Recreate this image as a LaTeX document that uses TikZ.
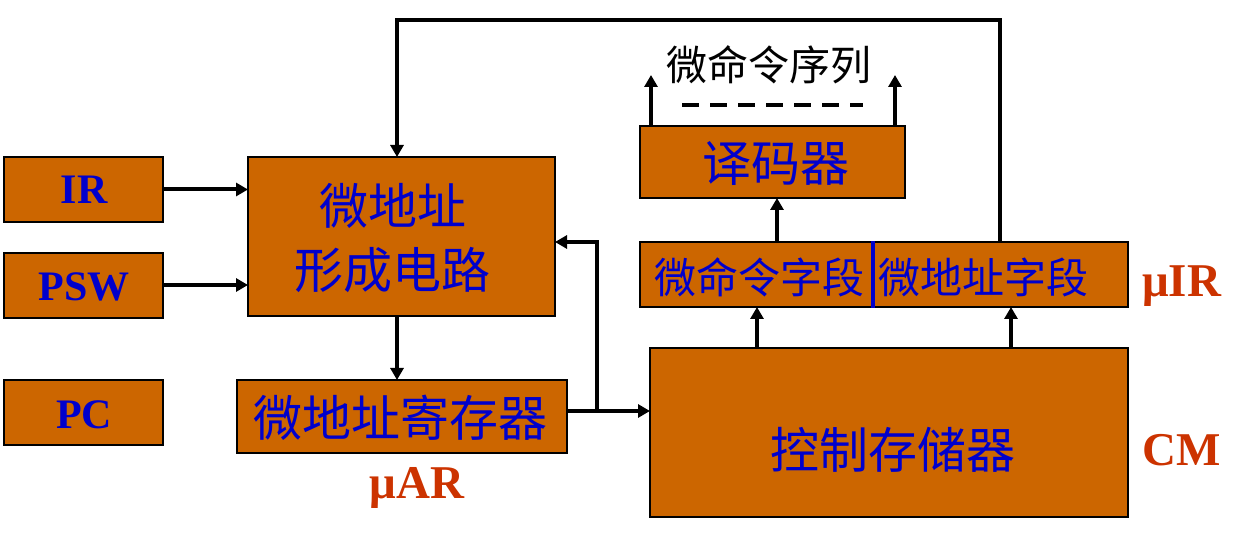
\documentclass[tikz,border=0pt]{standalone}
\usepackage{fontspec}
\setmainfont{Liberation Serif}
\newfontfamily\cjk{Noto Sans CJK SC}
\usetikzlibrary{arrows.meta}
\definecolor{boxorange}{HTML}{CC6600}
\definecolor{txtblue}{HTML}{0000CC}
\definecolor{lblred}{HTML}{CC3300}
\begin{document}
\begin{tikzpicture}[x=1pt,y=-1pt,
 box/.style={draw=black, line width=1.5pt, fill=boxorange, rectangle, inner sep=0pt, outer sep=0pt},
 cjkbig/.style={text=txtblue, font=\cjk\fontsize{49}{52}\selectfont, inner sep=0pt},
 cjksmall/.style={text=txtblue, font=\cjk\fontsize{42}{46}\selectfont, inner sep=0pt},
 cjkblack/.style={text=black, font=\cjk\fontsize{41}{46}\selectfont, inner sep=0pt},
 latin/.style={text=txtblue, font=\bfseries\fontsize{42}{46}\selectfont, inner sep=0pt},
 redlbl/.style={text=lblred, font=\bfseries\fontsize{47}{50}\selectfont, inner sep=0pt},
 arr/.style={line width=4pt, -{Triangle[length=12pt,width=13pt]}},
 wire/.style={line width=4pt},
]
\useasboundingbox (0,0) rectangle (1248,534);

% boxes
\node[box, minimum width=159pt, minimum height=65pt] (ir)  at (83.5,189.5) {};
\node[box, minimum width=159pt, minimum height=65pt] (psw) at (83.5,285.5) {};
\node[box, minimum width=159pt, minimum height=65pt] (pc)  at (83.5,412.5) {};
\node[box, minimum width=307pt, minimum height=159pt] (form) at (401.5,236.5) {};
\node[box, minimum width=330pt, minimum height=73pt] (uar) at (402,416.5) {};
\node[box, minimum width=478pt, minimum height=169pt] (cm) at (889,432.5) {};
\node[box, minimum width=488pt, minimum height=65pt] (uir) at (884,274.5) {};
\node[box, minimum width=265pt, minimum height=72pt] (dec) at (772.5,162) {};

% texts
\node[latin] (irT)  at (84,190) {IR};
\node[latin] (pswT) at (84,287) {PSW};
\node[latin] (pcT)  at (84,415) {PC};
\node[cjkbig] (formT1) at (393,206) {微地址};
\node[cjkbig] (formT2) at (392,270) {形成电路};
\node[cjkbig] (uarT) at (400,418) {微地址寄存器};
\node[cjkbig] (cmT) at (893,450) {控制存储器};
\node[cjkbig] (decT) at (776,163) {译码器};
\node[cjksmall] (uirT1) at (759,277) {微命令字段};
\node[cjksmall] (uirT2) at (983,277) {微地址字段};
\node[cjkblack] (seqT) at (769,65) {微命令序列};

\node[redlbl, anchor=base] (uarL) at (417,498) {μAR};
\node[redlbl, anchor=base west] (uirL) at (1142,297) {μIR};
\node[redlbl, anchor=base west] (cmL) at (1142,465) {CM};

% divider in uIR
\coordinate (div) at (873,0);
\draw[txtblue, line width=4pt] ([yshift=0.75pt]uir.north -| div) -- ([yshift=-0.75pt]uir.south -| div);

% connectors
\draw[arr] (ir.east) -- (ir.east -| form.west);
\draw[arr] (psw.east |- 0,285) -- (form.west |- 0,285);
\coordinate (fx) at (397,0);
\draw[arr] (form.south -| fx) -- (uar.north -| fx);

\coordinate (branch) at (597,411);
\coordinate (turn) at (597,242);
\draw[arr] (uar.east |- branch) -- (cm.west |- branch);
\draw[arr] (branch) -- (turn) -- (form.east |- turn);

\coordinate (c1) at (757,0);
\coordinate (c2) at (1011,0);
\draw[arr] (cm.north -| c1) -- (uir.south -| c1);
\draw[arr] (cm.north -| c2) -- (uir.south -| c2);

\coordinate (d1) at (777,0);
\draw[arr] (uir.north -| d1) -- (dec.south -| d1);

\coordinate (o1) at (651,75);
\coordinate (o2) at (895,75);
\draw[arr] (dec.north -| o1) -- (o1);
\draw[arr] (dec.north -| o2) -- (o2);

\coordinate (dashL) at (682,105);
\coordinate (dashR) at (863,105);
\draw[line width=4pt, dash pattern=on 17pt off 11pt] (dashL) -- (dashR);

\coordinate (fbR) at (1000,20);
\coordinate (fbL) at (397,20);
\draw[arr] (uir.north -| fbR) -- (fbR) -- (fbL) -- (form.north -| fbL);
\end{tikzpicture}
\end{document}
